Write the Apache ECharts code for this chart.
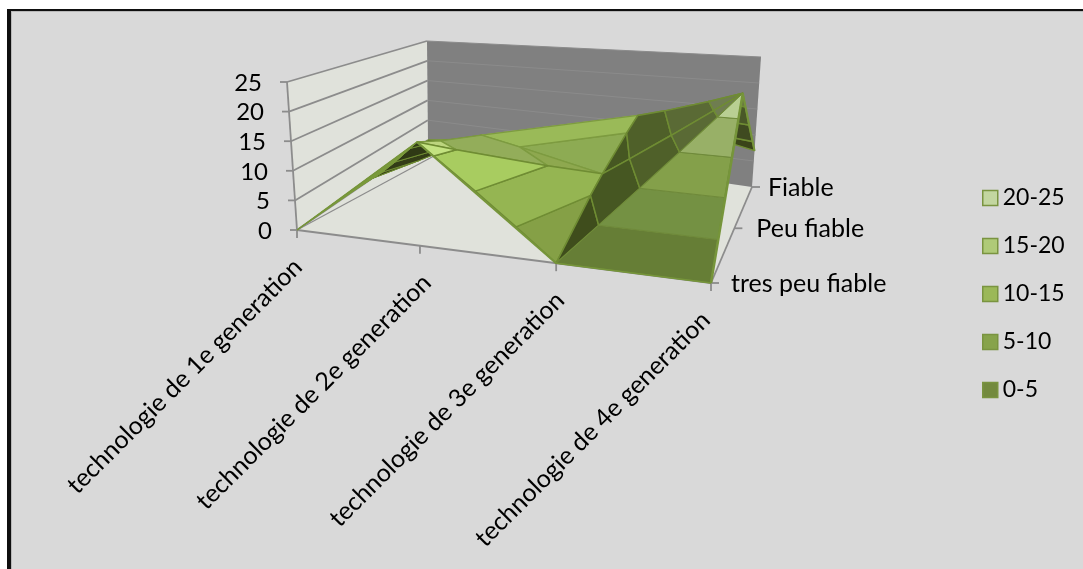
<!DOCTYPE html>
<html><head><meta charset="utf-8">
<style>html,body{margin:0;padding:0;background:#fff}#c{width:1083px;height:569px}</style>
<script src="https://cdn.jsdelivr.net/npm/echarts@6/dist/echarts.min.js"></script>
</head><body><div id="c"></div>
<script>
// ---- data ----
const categories = ['technologie de 1e generation','technologie de 2e generation','technologie de 3e generation','technologie de 4e generation'];
const depthNames = ['tres peu fiable','Peu fiable','Fiable'];
const tresPeuFiable = [0,17,0,0];
const peuFiable = [0,11.5,6.7,23.4];
const fiable = [0,4,11.5,7];
const valueTicks = [0,5,10,15,20,25];
const bandNames = ['0-5','5-10','10-15','15-20','20-25'];
const bandLows = [0,5,10,15,20];
const legendFills = ['#738a3e','#87a34b','#9bb858','#afca78','#c3d6a0'];

// ---- box of the 3-D plot in pixels ----
const floorBox = {fl:[297,230],fr:[711,283],br:[752,187],bl:[428,140]};
const topBox   = {fl:[287,82], fr:[720,120],br:[761,57], bl:[427,41]};
const uFront = [0,.297,.626,1], uBack = [0,.31,.64,1], vStops = [0,.57,1];
function warp(stops,t){const i=Math.min(Math.floor(t),stops.length-2);return stops[i]+(stops[i+1]-stops[i])*(t-i);}
function boxAt(box,uf,ub,w){
 const fx=box.fl[0]+(box.fr[0]-box.fl[0])*uf, fy=box.fl[1]+(box.fr[1]-box.fl[1])*uf;
 const bx=box.bl[0]+(box.br[0]-box.bl[0])*ub, by=box.bl[1]+(box.br[1]-box.bl[1])*ub;
 return [fx+(bx-fx)*w, fy+(by-fy)*w];
}
function project(u,v,z){ // u: 0..3 category, v: 0..1 depth, z: value
 const uf=warp(uFront,u),ub=warp(uBack,u),w=warp(vStops,v*2);
 const a=boxAt(floorBox,uf,ub,w),b=boxAt(topBox,uf,ub,w),t=z/25;
 return [a[0]+(b[0]-a[0])*t,a[1]+(b[1]-a[1])*t];
}

// ---- mesh ----
const rows=[tresPeuFiable,peuFiable,fiable];
const V=(i,j)=>[i,j/2,rows[j][i]];
const pal={
 under:['#3a4519','#333d17','#2f3915','#333d17','#333d17'],
 backTop:['#8dab53','#8dab53','#9aba58','#9aba58','#9aba58'],
 ridgeL:['#8ea84f','#8ea84f','#93ad5a','#bcd47e','#bcd47e'],
 ridgeF:['#85a046','#95b552','#a8cc60','#c3e281','#c3e281'],
 darkF:['#3f4d1c','#465722','#4f6029','#5a6a35','#6f7d50'],
 frontR:['#667e36','#749143','#84a04a','#98b067','#b9cf93'],
 tip:['#3a4419','#3a4419','#3f4a20','#4a5828','#6a7a40'],
 thin:['#7a9a3a','#7a9a3a','#7a9a3a','#7a9a3a','#7a9a3a']
};
const G=[0,0],A_=[1,0],B=[2,0],I=[3,0],H=[0,1],D=[1,1],C=[2,1],J=[3,1],L=[0,2],E=[1,2],F=[2,2],K=[3,2];
// painter order, back to front: [a,b,c,palette,strokeColor,strokeWidth]
const tris=[
 [L,D,E,'backTop','#7a9a3a',1],[H,D,L,'under','#6f8c33',1],
 [E,D,F,'backTop','#9aba58',1],[D,C,F,'backTop','#7d9b40',1.4],
 [F,J,K,'tip','#6f8c33',1.5],[F,C,J,'darkF','#6f8c33',1.5],
 [H,A_,D,'under','#6f8c33',1],[G,A_,H,'thin','#7a9a3a',1],
 [A_,C,D,'ridgeL','#7d9b40',1.4],[A_,B,C,'ridgeF','#6f8c33',1.5],
 [B,J,C,'darkF','#6f8c33',1.5],[B,I,J,'frontR','#6f8a3a',1]
];
const edges=[[G,A_,1.5],[A_,B,2],[B,I,1.5],[I,J,2.5],[J,K,2]];
function clip(poly,idx,lim,keepAbove){const out=[];for(let i=0;i<poly.length;i++){const p=poly[i],q=poly[(i+1)%poly.length];
  const ip=keepAbove?p[idx]>=lim:p[idx]<=lim,iq=keepAbove?q[idx]>=lim:q[idx]<=lim;
  if(ip)out.push(p);
  if(ip!==iq){const t=(lim-p[idx])/(q[idx]-p[idx]);out.push([p[0]+t*(q[0]-p[0]),p[1]+t*(q[1]-p[1]),p[2]+t*(q[2]-p[2])]);}
 }return out;}
function renderBand(params,api){
 const t=tris[api.value(0)],b=params.seriesIndex,lo=bandLows[b],hi=lo+5;
 let poly=[V(...t[0]),V(...t[1]),V(...t[2])];
 poly=clip(poly,2,lo,true);if(poly.length)poly=clip(poly,2,hi,false);
 if(poly.length<3)return null;
 const pts=poly.map(p=>api.coord(project(p[0],p[1],p[2])));
 return {type:'polygon',z2:10+api.value(0),shape:{points:pts},silent:true,
  style:{fill:pal[t[3]][b],stroke:t[4],lineWidth:t[5],lineJoin:'round'}};
}
const GRID='#8c8c8c',FONT='Lato';
const catLabelNudge=[1,7,4,-5], depthLabelNudge=[20,22,16];
function line(api,a,b,c,w,z2){return {type:'line',z2:z2,silent:true,shape:{x1:a[0],y1:a[1],x2:b[0],y2:b[1]},style:{stroke:c,lineWidth:w,fill:null}};}
function P(api,u,v,z){return api.coord(project(u,v,z));}
function txt(t,x,y,al,rot,size){return {type:'text',x:x,y:y,rotation:rot||0,z2:300,silent:true,
  style:{text:t,x:0,y:0,align:al,verticalAlign:'middle',font:size+'px '+FONT,fill:'#000'}};}
function renderFrame(params,api){
 const ch=[];
 const poly=(pts,fill)=>({type:'polygon',z2:1,silent:true,shape:{points:pts},style:{fill:fill}});
 ch.push(poly([P(api,0,0,0),P(api,3,0,0),P(api,3,1,0),P(api,0,1,0)],'#e0e2db'));
 ch.push(poly([P(api,0,0,0),P(api,0,1,0),P(api,0,1,25),P(api,0,0,25)],'#e0e2db'));
 ch.push(poly([P(api,0,1,0),P(api,3,1,0),P(api,3,1,25),P(api,0,1,25)],'#808080'));
 valueTicks.forEach(z=>{
  ch.push(line(api,P(api,0,0,z),P(api,0,1,z),GRID,1.8,3));
  if(z>0)ch.push(line(api,P(api,0,1,z),P(api,3,1,z),'#8b8b8b',1,3));
  const p=P(api,0,0,z);
  ch.push(line(api,[p[0]-7,p[1]],p,GRID,1.8,3));
  ch.push(txt(String(z),p[0]-25,p[1]+1,'right',0,24));
 });
 ch.push(line(api,P(api,0,0,0),P(api,0,0,25),GRID,1.8,3));
 ch.push(line(api,P(api,0,0,0),P(api,3,0,0),GRID,1.8,3));
 ch.push(line(api,P(api,3,0,0),P(api,3,1,0),GRID,1.8,3));
 // faint floor line passing under the left fold
 ch.push(line(api,P(api,0,0,0),P(api,1.118,0,15),GRID,1.2,3));
 categories.forEach((c,i)=>{const p=P(api,i,0,0);
  ch.push(line(api,p,[p[0],p[1]+8],GRID,1.8,3));
  ch.push(txt(c,p[0]+catLabelNudge[i],p[1]+33,'right',Math.PI/4,25));});
 depthNames.forEach((c,j)=>{const p=P(api,3,j/2,0);
  ch.push(line(api,p,[p[0]+8,p[1]],GRID,1.8,3));
  ch.push(txt(c,p[0]+depthLabelNudge[j],p[1]+1,'left',0,25));});
 return {type:'group',children:ch};
}
function renderEdges(params,api){
 return {type:'group',children:edges.map(e=>{const a=V(...e[0]),b=V(...e[1]);
  return line(api,P(api,a[0],a[1],a[2]),P(api,b[0],b[1],b[2]),'#76953a',e[2],100);})};
}
const base={type:'custom',coordinateSystem:'cartesian2d',silent:true,animation:false,clip:false};
const series=[];
bandNames.forEach((n,b)=>{
 const ids=[];tris.forEach((t,i)=>{const zs=[t[0],t[1],t[2]].map(q=>V(...q)[2]);
   if(Math.max(...zs)>=bandLows[b]&&Math.min(...zs)<=bandLows[b]+5)ids.push([i,0]);});
 series.push(Object.assign({},base,{name:n,data:ids,renderItem:renderBand,encode:{x:0,y:1},
   itemStyle:{color:legendFills[b]}}));
});
series.push(Object.assign({},base,{name:'frame',data:[[0,0]],renderItem:renderFrame,encode:{x:0,y:1}}));
series.push(Object.assign({},base,{name:'edges',data:[[0,0]],renderItem:renderEdges,encode:{x:0,y:1}}));

const chart=echarts.init(document.getElementById('c'),null,{renderer:'canvas'});
chart.setOption({
 animation:false,backgroundColor:'#ffffff',
 graphic:[
  {type:'rect',z:-10,silent:true,shape:{x:7,y:9,width:1076,height:560},style:{fill:'#0f0f0f'}},
  {type:'rect',z:-9,silent:true,shape:{x:11,y:11,width:1072,height:558},style:{fill:'#b8b8b8'}},
  {type:'rect',z:-8,silent:true,shape:{x:12,y:12,width:1071,height:557},style:{fill:'#d9d9d9'}}
 ],
 grid:{left:0,right:0,top:0,bottom:0,containLabel:false},
 xAxis:{type:'value',min:0,max:1083,show:false},
 yAxis:{type:'value',min:0,max:569,inverse:true,show:false},
 legend:{orient:'vertical',left:982,top:184,padding:0,itemWidth:15,itemHeight:15,itemGap:20,icon:'rect',selectedMode:false,
  textStyle:{fontFamily:FONT,fontSize:23,color:'#000',lineHeight:28},
  data:bandNames.map((n,b)=>({name:n,itemStyle:{color:legendFills[b],borderColor:'#7a9440',borderWidth:1.5}})).reverse()},
 series:series
});
</script></body></html>
